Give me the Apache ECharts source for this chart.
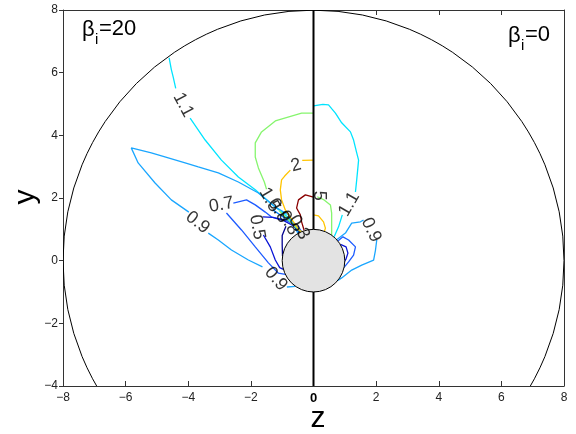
<!DOCTYPE html>
<html><head><meta charset="utf-8">
<script src="https://cdn.jsdelivr.net/npm/echarts@6/dist/echarts.min.js"></script>
<style>html,body{margin:0;padding:0;background:#fff}#c{width:576px;height:434px}</style>
</head><body><div id="c"></div>
<script>
// axis ranges / ticks
const xRange = [-8, 8], yRange = [-4, 8], tickStep = 2;
// reference circles: [z, y, radius]
const outerCircle = [[0, 0, 8]];
const body = [[0, 0, 1]];
const axisLineZ = [[0, -4], [0, 8]];

// contour polylines (z, y)
const c11L_a = [[-4.61,6.47],[-4.54,6.10],[-4.48,5.86],[-4.40,5.50]];
const c11L_b = [[-3.94,4.55],[-3.46,3.85],[-2.94,3.21],[-2.40,2.67],[-1.86,2.26],[-1.38,1.84],[-0.90,1.46],[-0.58,1.14],[-0.42,0.92]];
const c11R_a = [[0,4.94],[0.30,4.99],[0.48,4.97],[0.58,4.85],[0.70,4.71],[0.90,4.40],[1.18,4.11],[1.28,3.85],[1.38,3.44],[1.44,3.21],[1.41,2.89],[1.38,2.58],[1.34,2.19]];
const c11R_b = [[0.92,1.46],[0.80,1.08],[0.66,0.76]];
const c09L_a = [[-0.50,0.88],[-0.80,1.46],[-1.22,1.71],[-1.76,2.16],[-2.40,2.51],[-3.04,2.80],[-3.68,2.99],[-4.10,3.12],[-4.80,3.33],[-5.18,3.44],[-5.82,3.60],[-5.60,3.12],[-5.06,2.48],[-4.54,1.94],[-3.98,1.55]];
const c09L_b = [[-3.36,0.88],[-3.04,0.66],[-2.62,0.34],[-2.08,0.02],[-1.63,-0.20]];
const c09L_c = [[-0.85,-0.84],[-0.58,-0.82]];
const c09R_a = [[0.74,0.67],[1.02,0.88],[1.22,1.20],[1.50,1.24],[1.60,1.30]];
const c09R_b = [[2.02,0.66],[1.98,0.34],[1.92,0.02],[1.54,-0.14],[1.22,-0.30],[0.90,-0.55],[0.78,-0.63]];
const c07L_a = [[-2.56,1.84],[-2.14,1.94],[-1.86,1.78],[-1.54,1.55],[-1.34,1.39],[-0.90,1.30],[-0.48,1.08],[-0.38,0.93]];
const c07L_b = [[-2.78,1.52],[-2.30,0.98],[-1.86,0.44],[-1.44,-0.07],[-1.12,-0.40],[-0.90,-0.44]];
const c07R = [[0.78,0.63],[0.94,0.76],[1.12,0.66],[1.34,0.44],[1.28,0.18],[1.12,-0.04],[0.97,-0.22]];
const c08L = [[-1.30,1.62],[-1.00,1.42],[-0.70,1.20],[-0.45,0.90]];
const c05L_a = [[-1.60,0.82],[-1.38,0.44],[-1.22,0.02],[-1.08,-0.22],[-0.96,-0.28]];
const c05L_b = [[-1.62,1.40],[-1.30,1.38],[-0.95,1.28],[-0.62,1.10],[-0.42,0.91]];
const c05R = [[0.86,0.52],[1.04,0.44],[1.10,0.24],[1.04,0.06],[0.99,-0.02]];
const c03L = [[-0.88,1.10],[-1.00,0.80],[-1.00,0.50],[-0.99,0.15]];
const c15L_a = [[0,4.71],[-0.38,4.71],[-1.22,4.46],[-1.66,4.11],[-1.86,3.76],[-1.86,3.31],[-1.76,2.96],[-1.57,2.51],[-1.50,2.28]];
const c15L_b = [[-1.10,1.60],[-0.80,1.30],[-0.55,1.05],[-0.40,0.92]];
const c15R = [[0.12,2.04],[0.32,1.95],[0.54,1.78],[0.58,1.52],[0.58,1.14],[0.58,0.82]];
const c2L_a = [[0,3.21],[-0.36,3.20]];
const c2L_b = [[-0.74,2.89],[-0.92,2.70],[-1.02,2.58],[-1.06,2.26],[-1.02,1.94],[-0.90,1.62],[-0.64,1.24],[-0.45,0.96],[-0.36,0.93]];
const c2R = [[0,1.46],[0.16,1.43],[0.32,1.24],[0.38,1.04],[0.35,0.94]];
const c5L = [[0,2.03],[-0.26,2.10],[-0.48,1.94],[-0.54,1.68],[-0.42,1.46],[-0.38,1.24],[-0.30,0.97]];

// contour labels
const labelPos = [[-4.16,4.97],[1.14,1.80],[-3.70,1.22],[-1.20,-0.58],[1.84,0.98],[-2.94,1.78],[-1.80,1.07],[-1.40,1.94],[-1.12,1.60],[-0.80,1.21],[-0.46,1.06],[-0.56,3.04],[0.16,2.07]];
const labelText = ['1.1','1.1','0.9','0.9','0.9','0.7','0.5','1.5','0.8','0.8','0.3','2','5'];
const labelAngle = [-62, 60, -38, -50, -65, 10, -80, -60, -60, -60, -60, 15, -90];

const colors = {c03:'#00008f', c05:'#0a14d6', c07:'#1e5cff', c08:'#0080ff', c09:'#1aa6ff', c11:'#00e4ff', c15:'#86f56e', c2:'#ffc400', c5:'#8a0000'};
const contours = [
  [colors.c11, [c11L_a, c11L_b, c11R_a, c11R_b]],
  [colors.c09, [c09L_a, c09L_b, c09L_c, c09R_a, c09R_b]],
  [colors.c07, [c07L_a, c07L_b, c07R]],
  [colors.c08, [c08L]],
  [colors.c05, [c05L_a, c05L_b, c05R]],
  [colors.c03, [c03L]],
  [colors.c15, [c15L_a, c15L_b, c15R]],
  [colors.c2, [c2L_a, c2L_b, c2R]],
  [colors.c5, [c5L]]
];

const FONT = 'Liberation Sans, Arial, sans-serif';
const chart = echarts.init(document.getElementById('c'), null, {renderer:'canvas'});
const series = [];

function circleItem(fill, lw) {
  return function (params, api) {
    const c = api.coord([api.value(0), api.value(1)]);
    const r = api.size([api.value(2), 0])[0];
    const cs = params.coordSys;
    return {type:'circle', shape:{cx:c[0], cy:c[1], r:r},
      style:{fill:fill, stroke:'#000', lineWidth:lw},
      clipPath:{type:'rect', shape:{x:cs.x, y:cs.y, width:cs.width, height:cs.height}}};
  };
}
series.push({type:'custom', xAxisIndex:0, yAxisIndex:0, data:outerCircle, renderItem:circleItem('none', 1), z:1, silent:true, animation:false});
contours.forEach(([col, segs]) => {
  segs.forEach(seg => series.push({type:'line', xAxisIndex:0, yAxisIndex:0, data:seg, symbol:'none', z:2,
    lineStyle:{color:col, width:1.3}, animation:false, silent:true}));
});
series.push({type:'line', xAxisIndex:0, yAxisIndex:0, data:axisLineZ, symbol:'none', z:3, lineStyle:{color:'#000', width:2}, animation:false});
series.push({type:'custom', xAxisIndex:0, yAxisIndex:0, data:body, renderItem:circleItem('#e3e3e3', 1), z:4, silent:true, animation:false});
series.push({type:'scatter', xAxisIndex:0, yAxisIndex:0, symbolSize:0, z:5, animation:false,
  itemStyle:{color:'transparent'},
  data: labelPos.map((p, i) => ({value:p, label:{rotate:labelAngle[i], formatter:labelText[i]}})),
  label:{show:true, position:'inside', fontSize:18, color:'#000', fontFamily:FONT, textBorderWidth:0, textBorderColor:'transparent'}});
// empty series so the second (right-half) grid gets its top ticks drawn
series.push({type:'line', xAxisIndex:2, yAxisIndex:2, data:[], symbol:'none', silent:true});

const minus = v => (v < 0 ? '\u2212' + Math.abs(v) : String(v));
const xTickLabel = {fontSize:12, color:'#222', fontFamily:FONT, margin:6,
  formatter: v => v === 0 ? '{b|0}' : minus(v),
  rich:{b:{fontWeight:'bold', fontSize:13, color:'#000', fontFamily:FONT}}};
const yTickLabel = {fontSize:12, color:'#222', fontFamily:FONT, margin:5, formatter: minus};

chart.setOption({
  backgroundColor:'#fff',
  animation:false,
  grid:[{left:63, right:12, top:10, bottom:48}, {left:313.5, right:12, top:10, bottom:48}],
  xAxis:[
    {gridIndex:0, type:'value', min:xRange[0], max:xRange[1], interval:tickStep, position:'bottom',
     axisLine:{show:true, onZero:false, lineStyle:{color:'#333', width:1}},
     axisTick:{show:true, inside:true, length:5, lineStyle:{color:'#333'}},
     axisLabel:xTickLabel, splitLine:{show:false}},
    {gridIndex:0, type:'value', min:xRange[0], max:xRange[1], position:'top',
     axisLine:{show:true, onZero:false, lineStyle:{color:'#333', width:1}},
     axisTick:{show:false}, axisLabel:{show:false}, splitLine:{show:false}},
    {gridIndex:1, type:'value', min:0, max:xRange[1], interval:tickStep, position:'top',
     axisLine:{show:true, onZero:false, lineStyle:{color:'#333', width:1}},
     axisTick:{show:true, inside:true, length:5, lineStyle:{color:'#333', width:1}},
     axisLabel:{show:false}, splitLine:{show:false}}
  ],
  yAxis:[
    {gridIndex:0, type:'value', min:yRange[0], max:yRange[1], interval:tickStep, position:'left',
     axisLine:{show:true, onZero:false, lineStyle:{color:'#333', width:1}},
     axisTick:{show:true, inside:false, length:4, lineStyle:{color:'#333'}},
     axisLabel:yTickLabel, splitLine:{show:false}},
    {gridIndex:0, type:'value', min:yRange[0], max:yRange[1], position:'right',
     axisLine:{show:true, onZero:false, lineStyle:{color:'#333', width:1}},
     axisTick:{show:false}, axisLabel:{show:false}, splitLine:{show:false}},
    {gridIndex:1, type:'value', min:yRange[0], max:yRange[1], position:'left',
     axisLine:{show:false, onZero:false}, axisTick:{show:false}, axisLabel:{show:false}, splitLine:{show:false}}
  ],
  graphic:[
    {type:'text', x:82, y:30, style:{text:'\u03b2', fontSize:22, fontFamily:FONT, fill:'#000', verticalAlign:'middle'}},
    {type:'text', x:95, y:40, style:{text:'i', fontSize:15, fontFamily:FONT, fill:'#000', verticalAlign:'middle'}},
    {type:'text', x:99, y:29, style:{text:'=20', fontSize:22, fontFamily:FONT, fill:'#000', verticalAlign:'middle'}},
    {type:'text', x:508, y:36, style:{text:'\u03b2', fontSize:22, fontFamily:FONT, fill:'#000', verticalAlign:'middle'}},
    {type:'text', x:521, y:46, style:{text:'i', fontSize:15, fontFamily:FONT, fill:'#000', verticalAlign:'middle'}},
    {type:'text', x:525, y:35, style:{text:'=0', fontSize:22, fontFamily:FONT, fill:'#000', verticalAlign:'middle'}},
    {type:'text', x:318, y:419, style:{text:'z', fontSize:30, fontFamily:FONT, fill:'#000', align:'center', verticalAlign:'middle'}},
    {type:'text', x:26, y:197, rotation:Math.PI/2, style:{text:'y', fontSize:30, fontFamily:FONT, fill:'#000', align:'center', verticalAlign:'middle'}}
  ],
  series:series
});
</script></body></html>
